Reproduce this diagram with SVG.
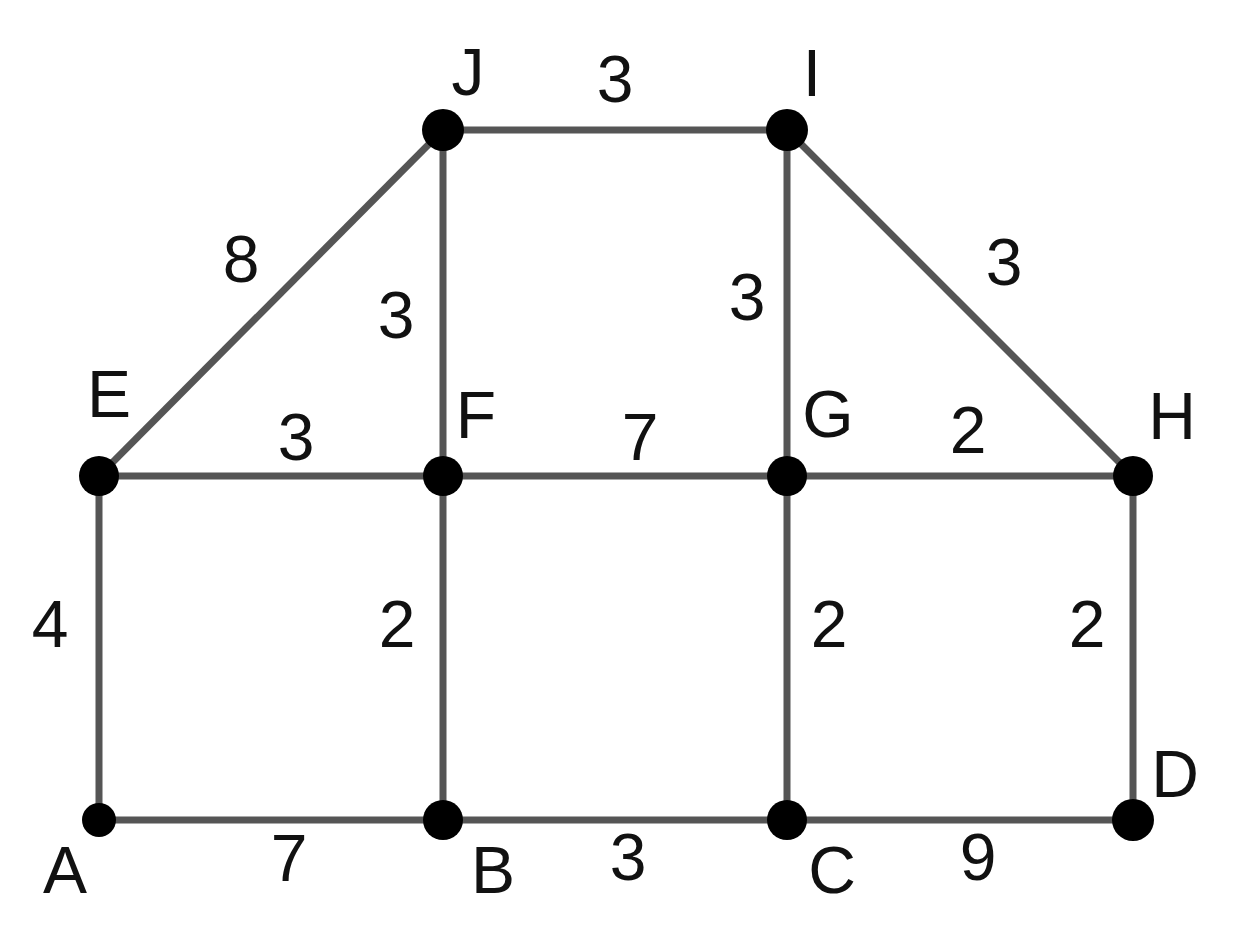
<svg xmlns="http://www.w3.org/2000/svg" width="1236" height="946" viewBox="0 0 1236 946">
<style>
.e{stroke:#555;stroke-width:7;fill:none}
.n{fill:#000}
text{font-family:"Liberation Sans",Arial,sans-serif;font-size:66px;fill:#111;text-anchor:middle}
</style>
<rect width="1236" height="946" fill="#fff"/>
<g id="edges">
<line class="e" x1="443" y1="130" x2="787" y2="130"/>
<line class="e" x1="443" y1="130" x2="99" y2="476"/>
<line class="e" x1="443" y1="130" x2="443" y2="476"/>
<line class="e" x1="787" y1="130" x2="787" y2="476"/>
<line class="e" x1="787" y1="130" x2="1133" y2="476"/>
<line class="e" x1="99" y1="476" x2="1133" y2="476"/>
<line class="e" x1="99" y1="476" x2="99" y2="820"/>
<line class="e" x1="443" y1="476" x2="443" y2="820"/>
<line class="e" x1="787" y1="476" x2="787" y2="820"/>
<line class="e" x1="1133" y1="476" x2="1133" y2="820"/>
<line class="e" x1="99" y1="820" x2="1133" y2="820"/>
</g>
<g id="edge-labels">
<text x="615" y="102">3</text>
<text x="241" y="282">8</text>
<text x="396" y="338">3</text>
<text x="747" y="320">3</text>
<text x="1004" y="285">3</text>
<text x="296" y="460">3</text>
<text x="640" y="460">7</text>
<text x="968" y="453">2</text>
<text x="50" y="647">4</text>
<text x="397" y="647">2</text>
<text x="829" y="647">2</text>
<text x="1087" y="647">2</text>
<text x="289" y="881">7</text>
<text x="628" y="880">3</text>
<text x="978" y="880">9</text>
</g>
<g id="node-J"><circle class="n" cx="443" cy="130" r="21"/><text x="468" y="95">J</text></g>
<g id="node-I"><circle class="n" cx="787" cy="130" r="21"/><text x="812" y="96">I</text></g>
<g id="node-E"><circle class="n" cx="99" cy="476" r="20"/><text x="109" y="417">E</text></g>
<g id="node-F"><circle class="n" cx="443" cy="476" r="20"/><text x="476" y="438">F</text></g>
<g id="node-G"><circle class="n" cx="787" cy="476" r="20"/><text x="828" y="437">G</text></g>
<g id="node-H"><circle class="n" cx="1133" cy="476" r="20"/><text x="1172" y="439">H</text></g>
<g id="node-A"><circle class="n" cx="99" cy="820" r="17"/><text x="65" y="893">A</text></g>
<g id="node-B"><circle class="n" cx="443" cy="820" r="20"/><text x="493" y="893">B</text></g>
<g id="node-C"><circle class="n" cx="787" cy="820" r="20"/><text x="832" y="893">C</text></g>
<g id="node-D"><circle class="n" cx="1133" cy="820" r="21"/><text x="1175" y="797">D</text></g>
</svg>
